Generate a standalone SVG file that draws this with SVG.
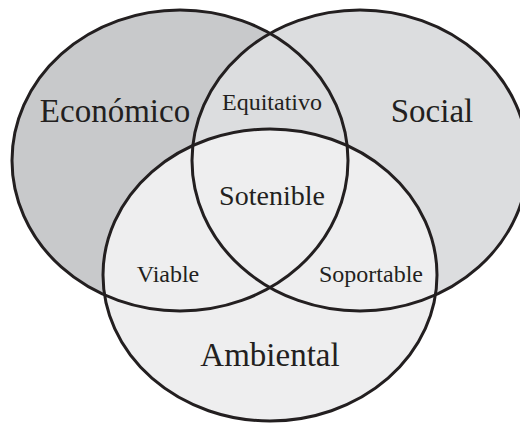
<svg xmlns="http://www.w3.org/2000/svg" width="520" height="423" viewBox="0 0 520 423">
<style>
.o{fill:none;stroke:#231f20;stroke-width:3}
.t{font-family:"Liberation Serif","Times New Roman",serif;fill:#231f20;text-anchor:middle}
.big{font-size:33px}
.mid{font-size:28px}
.sm{font-size:24px}
</style>
<rect width="520" height="423" fill="#ffffff"/>
<g id="economico">
<ellipse cx="180" cy="160.5" rx="168" ry="150.5" fill="#c8c9cb"/>
</g>
<g id="social">
<ellipse cx="360" cy="160.5" rx="168" ry="150.5" fill="#dcdddf"/>
</g>
<g id="ambiental">
<ellipse cx="270" cy="275" rx="167" ry="146" fill="#eeeeef"/>
</g>
<g id="outlines">
<ellipse class="o" cx="180" cy="160.5" rx="168" ry="150.5"/>
<ellipse class="o" cx="360" cy="160.5" rx="168" ry="150.5"/>
<ellipse class="o" cx="270" cy="275" rx="167" ry="146"/>
</g>
<g id="labels">
<text class="t big" x="115" y="122">Económico</text>
<text class="t big" x="432" y="122">Social</text>
<text class="t big" x="270" y="366">Ambiental</text>
<text class="t sm" x="272" y="110">Equitativo</text>
<text class="t mid" x="272" y="205">Sotenible</text>
<text class="t sm" x="168" y="282">Viable</text>
<text class="t sm" x="371" y="282">Soportable</text>
</g>
</svg>
